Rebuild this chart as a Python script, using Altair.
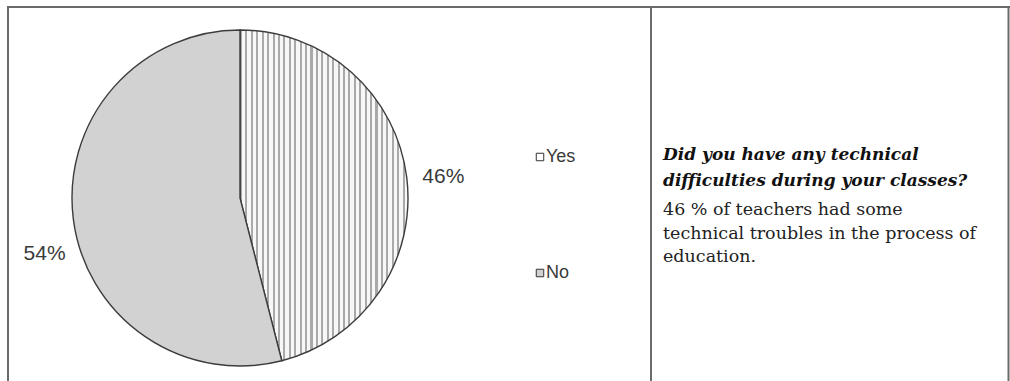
import altair as alt
import pandas as pd

# Survey answers
categories = ["Yes", "No"]
shares = [46, 54]
share_labels = ["46%", "54%"]

question_lines = ["Did you have any technical", "difficulties during your classes?"]
answer_lines = ["46 % of teachers had some", "technical troubles in the process of", "education."]

df = pd.DataFrame({"category": categories, "share": shares, "label": share_labels})
one = pd.DataFrame({"k": [0]})

CX, CY, R = 240, 198, 168
W, H = 1010, 381
EDGE = "#3c3c3c"
NO_FILL = "#d2d2d2"
SERIF = "DejaVu Serif"
SANS = "Liberation Sans"

# vertical hatch for the "Yes" slice, built as a striped linear gradient
n_stripes = 31
stops = []
for i in range(n_stripes):
    a = i / n_stripes
    b = (i + 0.38) / n_stripes
    c = (i + 1) / n_stripes
    stops += [
        alt.GradientStop(offset=a, color="#a9a9a9"),
        alt.GradientStop(offset=b, color="#a9a9a9"),
        alt.GradientStop(offset=b, color="#f7f7f7"),
        alt.GradientStop(offset=c, color="#f7f7f7"),
    ]
hatch = alt.LinearGradient(gradient="linear", stops=stops, x1=0, x2=1, y1=0, y2=0)

theta_scale = alt.Scale(domain=[0, 100], range=[0, 6.283185307179586])

base = alt.Chart(df).transform_stack(
    stack="share", groupby=[], as_=["s0", "s1"],
    sort=[alt.SortField("category", order="descending")],
).transform_calculate(mid="(datum.s0 + datum.s1) / 2")


def slice_layer(cat, fill):
    return base.transform_filter(alt.datum.category == cat).mark_arc(
        radius=R, fill=fill, stroke=EDGE, strokeWidth=1.4
    ).encode(
        theta=alt.Theta("s0:Q", scale=theta_scale, stack=None),
        theta2="s1:Q",
        x=alt.value(CX),
        y=alt.value(CY),
    )


def label_layer(cat, dx, dy):
    return base.transform_filter(alt.datum.category == cat).mark_text(
        radius=R + 37, font=SANS, fontSize=21, color="#3a3a3a", dx=dx, dy=dy
    ).encode(
        theta=alt.Theta("mid:Q", scale=theta_scale, stack=None),
        text="label:N",
        x=alt.value(CX),
        y=alt.value(CY),
    )


legend_y = alt.Y("category:N", scale=alt.Scale(domain=categories, range=[157, 273], padding=0), axis=None)

legend_marks = alt.Chart(df).mark_square(size=56, stroke="#333333", strokeWidth=1, opacity=1).encode(
    x=alt.value(540),
    y=legend_y,
    fill=alt.Fill("category:N", scale=alt.Scale(domain=categories, range=["#ffffff", NO_FILL]), legend=None),
)
legend_text = alt.Chart(df).mark_text(
    align="left", baseline="middle", font=SANS, fontSize=18, color="#3a3a3a"
).encode(x=alt.value(546), y=legend_y, text="category:N")


def rule(**enc):
    return alt.Chart(one).mark_rule(color="#6a6a6a", strokeWidth=2).encode(**{k: alt.value(v) for k, v in enc.items()})


borders = [
    rule(x=7, x2=W, y=7),
    rule(x=8, y=7, y2=H),
    rule(x=651, y=7, y2=H),
    rule(x=W - 1.5, y=7, y2=H),
]

question = alt.Chart(one).mark_text(
    align="left", baseline="middle", font=SERIF, fontSize=17,
    fontWeight="bold", fontStyle="italic", lineHeight=26, color="#111111"
).encode(x=alt.value(663), y=alt.value(155), text=alt.value(question_lines))

answer = alt.Chart(one).mark_text(
    align="left", baseline="middle", font=SERIF, fontSize=17.5,
    lineHeight=23.5, color="#222222"
).encode(x=alt.value(663), y=alt.value(210), text=alt.value(answer_lines))

chart = alt.layer(
    slice_layer("Yes", hatch),
    slice_layer("No", NO_FILL),
    label_layer("Yes", 0, 5),
    label_layer("No", 8, 30),
    legend_marks,
    legend_text,
    question,
    answer,
    *borders,
).properties(
    width=W, height=H, padding=0, autosize=alt.AutoSizeParams(type="none"), background="white"
).configure_view(stroke=None)

chart.save("out.html", embed_options={"renderer": "svg", "actions": False})
